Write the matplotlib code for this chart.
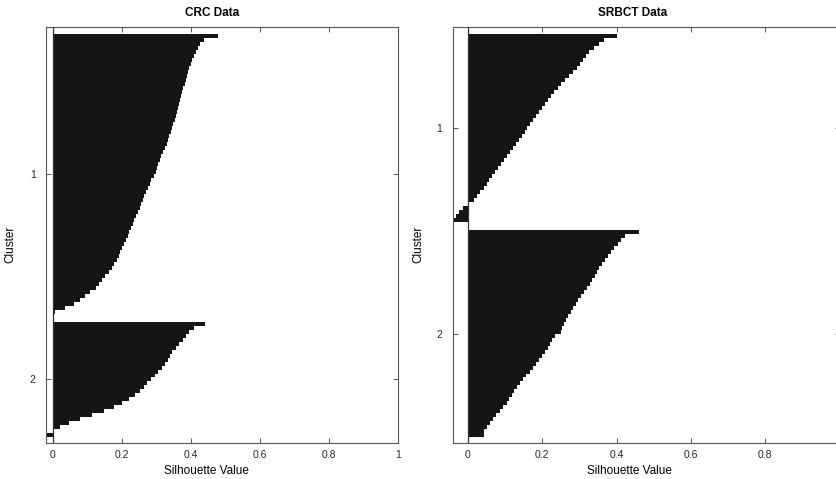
import numpy as np
import matplotlib
matplotlib.use("Agg")
import matplotlib.pyplot as plt

# Silhouette values, sorted per cluster
crc_cluster1 = [0.480, 0.437, 0.427, 0.420, 0.416, 0.410, 0.405, 0.401, 0.396, 0.393,
                0.389, 0.386, 0.382, 0.378, 0.375, 0.372, 0.369, 0.366, 0.363, 0.360,
                0.357, 0.354, 0.350, 0.346, 0.342, 0.338, 0.334, 0.330, 0.325, 0.320,
                0.315, 0.310, 0.306, 0.302, 0.298, 0.293, 0.286, 0.281, 0.276, 0.271,
                0.266, 0.262, 0.257, 0.252, 0.247, 0.242, 0.237, 0.232, 0.227, 0.222,
                0.217, 0.213, 0.207, 0.202, 0.196, 0.191, 0.186, 0.179, 0.171, 0.163,
                0.153, 0.144, 0.135, 0.125, 0.109, 0.094, 0.078, 0.062, 0.037, 0.008]
crc_cluster2 = [0.440, 0.410, 0.396, 0.387, 0.377, 0.366, 0.356, 0.347, 0.340, 0.333,
                0.325, 0.316, 0.305, 0.296, 0.285, 0.274, 0.264, 0.254, 0.240, 0.222,
                0.200, 0.177, 0.150, 0.115, 0.080, 0.048, 0.022, 0.002, -0.030]

srbct_cluster1 = [0.400, 0.367, 0.352, 0.338, 0.327, 0.317, 0.309, 0.301, 0.293, 0.283,
                  0.273, 0.262, 0.251, 0.242, 0.232, 0.223, 0.215, 0.207, 0.199, 0.191,
                  0.183, 0.175, 0.168, 0.160, 0.153, 0.146, 0.138, 0.130, 0.122, 0.114,
                  0.106, 0.098, 0.090, 0.082, 0.074, 0.066, 0.058, 0.050, 0.042, 0.033,
                  0.024, 0.015, 0.002, -0.014, -0.023, -0.031, -0.039]
srbct_cluster2 = [0.460, 0.423, 0.412, 0.403, 0.394, 0.386, 0.377, 0.369, 0.362, 0.354,
                  0.347, 0.341, 0.335, 0.328, 0.321, 0.312, 0.303, 0.296, 0.290, 0.284,
                  0.277, 0.270, 0.264, 0.258, 0.254, 0.250, 0.235, 0.227, 0.222, 0.215,
                  0.208, 0.200, 0.192, 0.183, 0.175, 0.166, 0.157, 0.149, 0.141, 0.133,
                  0.125, 0.118, 0.111, 0.105, 0.094, 0.085, 0.076, 0.067, 0.059, 0.050,
                  0.043, 0.042]

titles = ["CRC Data", "SRBCT Data"]
cluster_labels = ["1", "2"]
x_ticks = [0, 0.2, 0.4, 0.6, 0.8, 1]
x_tick_labels = ["0", "0.2", "0.4", "0.6", "0.8", "1"]

plt.rcParams['font.family'] = ['Liberation Sans', 'DejaVu Sans']

W, H = 836, 479
fig = plt.figure(figsize=(W / 100, H / 100), dpi=100)
fig.patch.set_facecolor("white")

# axes boxes in pixels: left, top, right, bottom
boxes = [(46, 27, 398, 443), (452.7, 27, 839.5, 443)]
x_left = [-0.019, -0.041]
title_x = [0.471, 0.466]
xlabel_x = [0.455, 0.458]
ylabel_x = [-0.085, -0.074]

data = [(crc_cluster1, crc_cluster2), (srbct_cluster1, srbct_cluster2)]

gap = 2.0
top_pad = 1.75
bottom_pad = 1.4
bar_color = "#151515"
frame_color = "#555555"

for k, (c1, c2) in enumerate(data):
    l, t, r, b = boxes[k]
    ax = fig.add_axes([l / W, (H - b) / H, (r - l) / W, (b - t) / H])

    n1, n2 = len(c1), len(c2)
    y1 = np.arange(n1) + 0.5
    y2 = n1 + gap + np.arange(n2) + 0.5
    # no antialiasing, so neighbouring bars join without light seams
    ax.barh(y1, c1, height=1.0, color=bar_color, linewidth=0, antialiased=False)
    ax.barh(y2, c2, height=1.0, color=bar_color, linewidth=0, antialiased=False)
    ax.axvline(0, color="#333333", linewidth=0.9, zorder=3)

    ax.set_ylim(n1 + gap + n2 + bottom_pad, -top_pad)
    ax.set_xlim(x_left[k], 1)

    ax.set_yticks([n1 / 2, n1 + gap + n2 / 2])
    ax.set_yticklabels(cluster_labels)
    ax.set_xticks(x_ticks)
    ax.set_xticklabels(x_tick_labels)

    ax.tick_params(direction="in", length=3.6, width=0.7, color=frame_color,
                   labelsize=7.5, labelcolor="#262626", top=True, right=True)
    ax.tick_params(axis="x", pad=5.0)
    ax.tick_params(axis="y", pad=7.5)
    for sp in ax.spines.values():
        sp.set_color(frame_color)
        sp.set_linewidth(0.8)

    ax.set_title(titles[k], fontsize=8.5, fontweight="bold", x=title_x[k], pad=8)
    ax.set_xlabel("Silhouette Value", fontsize=8.5)
    ax.xaxis.set_label_coords(xlabel_x[k], -0.052)
    ax.set_ylabel("Cluster", fontsize=8.5)
    ax.yaxis.set_label_coords(ylabel_x[k], 0.478)

plt.savefig("out.png", dpi=100, facecolor="white")
plt.close()
